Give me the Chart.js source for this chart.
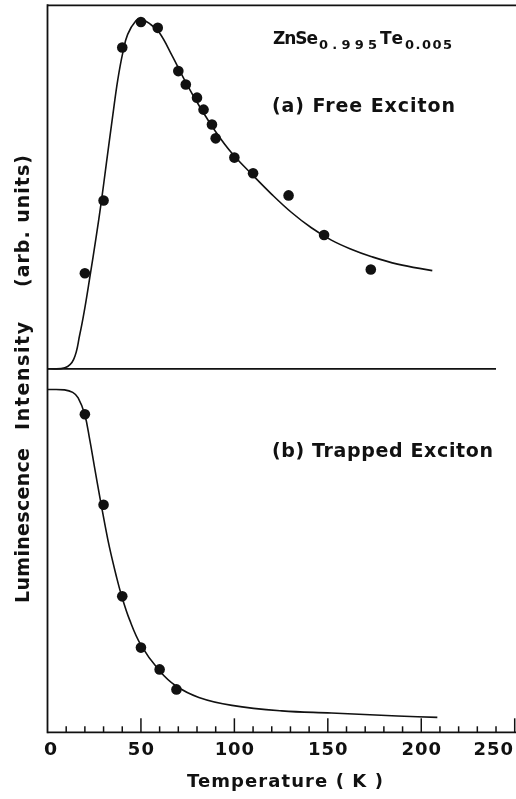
<!DOCTYPE html>
<html><head><meta charset="utf-8">
<script src="https://cdn.jsdelivr.net/npm/chart.js@4.4.0/dist/chart.umd.min.js"></script>
<style>
html,body{margin:0;padding:0;background:#fff;overflow:hidden;width:516px;height:799px}
#wrap{width:520px;height:799px}
</style></head>
<body><div id="wrap"><canvas id="c" width="520" height="799"></canvas></div>
<script>
// ---- data ----
const freeT = [20, 30, 40, 50, 59, 70, 74, 80, 83.5, 88, 90, 100, 110, 129, 148, 173];
const freeI = [26.3, 46.3, 88.4, 95.4, 93.8, 81.9, 78.2, 74.6, 71.3, 67.2, 63.4, 58.1, 53.8, 47.7, 36.8, 27.3];
const freeFitT = [0, 9.3, 14, 17.3, 19.9, 22.6, 26.1, 28.8, 31.5, 35.0, 37.6, 40.3, 42.9, 47.4, 50, 54.5, 59.8, 66.8, 74, 81, 89.9, 98.7, 109.4, 120, 130.6, 141.2, 151.9, 162.5, 173.1, 187.3, 205.9];
const freeFitI = [0, 0.3, 2.6, 9.5, 16.5, 25.0, 36.5, 46.0, 56.5, 70.0, 79.5, 87.0, 92.0, 95.8, 96.2, 95.0, 92.5, 86.0, 78.8, 72.5, 65.3, 59.3, 53.5, 48.0, 43.0, 38.8, 35.4, 32.9, 30.9, 28.8, 27.0];
const trapT = [20, 30, 40, 50, 60, 69];
const trapI = [87.5, 62.6, 37.4, 23.3, 17.3, 11.8];
const trapFitT = [0, 9.1, 13.5, 16.4, 19.9, 22.6, 25.2, 27.9, 30.6, 33.2, 36.8, 39.4, 43.9, 50, 59.8, 68.6, 81, 98.7, 125.3, 151.9, 169.6, 187.3, 208.6];
const trapFitI = [94.3, 94.2, 93.5, 92.0, 87.5, 80.5, 72.8, 65.0, 57.5, 50.8, 43.0, 38.0, 31.0, 24.0, 17.0, 12.8, 9.6, 7.4, 5.9, 5.3, 4.9, 4.5, 4.1];
const xMajorTicks = [0, 50, 100, 150, 200, 250];
const xTickLabels = ['0', '50', '100', '150', '200', '250'];
const xMinorTicks = [10, 20, 30, 40, 60, 70, 80, 90, 110, 120, 130, 140, 160, 170, 180, 190, 210, 220, 230, 240];
const xTitle = 'Temperature ( K )';
const yTitleParts = ['Luminescence', 'Intensity', '(arb. units)'];
const labelA = '(a) Free Exciton';
const labelB = '(b) Trapped Exciton';
const formulaParts = ['ZnSe', '0.995', 'Te', '0.005'];

const pts = (xs, ys) => xs.map((x, i) => ({x: x, y: ys[i]}));
const FONT = '"DejaVu Sans", "Liberation Sans", sans-serif';

function fitText(ctx, text, x, y, width, align) {
  ctx.save();
  ctx.textAlign = 'left';
  const hasLS = ('letterSpacing' in ctx);
  if (hasLS) ctx.letterSpacing = '0px';
  const w0 = ctx.measureText(text).width;
  let start;
  if (align === 'center') start = x - width / 2;
  else if (align === 'right') start = x - width;
  else start = x;
  if (hasLS && text.length > 1) {
    const ls = (width - w0) / (text.length - 1);
    ctx.letterSpacing = ls.toFixed(2) + 'px';
    ctx.fillText(text, start, y);
  } else {
    ctx.translate(start, y);
    ctx.scale(width / w0, 1);
    ctx.fillText(text, 0, 0);
  }
  ctx.restore();
}

const framePlugin = {
  id: 'frame',
  afterDatasetsDraw(chart) {
    const ctx = chart.ctx;
    const a = chart.chartArea;
    const xs = chart.scales.x;
    const yt = chart.scales.yTop;
    ctx.save();
    ctx.strokeStyle = '#111';
    ctx.fillStyle = '#111';
    ctx.lineWidth = 1.8;
    ctx.lineCap = 'butt';
    ctx.beginPath(); ctx.moveTo(a.left, a.top - 1); ctx.lineTo(a.left, a.bottom + 1); ctx.stroke();
    ctx.beginPath(); ctx.moveTo(a.left, a.top); ctx.lineTo(chart.width, a.top); ctx.stroke();
    const ym = yt.getPixelForValue(0);
    ctx.beginPath(); ctx.moveTo(a.left, ym); ctx.lineTo(xs.getPixelForValue(240), ym); ctx.stroke();
    ctx.beginPath(); ctx.moveTo(a.left, a.bottom); ctx.lineTo(chart.width, a.bottom); ctx.stroke();
    ctx.lineWidth = 1.5;
    xMinorTicks.forEach(v => {
      const px = xs.getPixelForValue(v);
      ctx.beginPath(); ctx.moveTo(px, a.bottom); ctx.lineTo(px, a.bottom - 6); ctx.stroke();
    });
    xMajorTicks.forEach(v => {
      if (v === 0) return;
      const px = xs.getPixelForValue(v);
      ctx.beginPath(); ctx.moveTo(px, a.bottom); ctx.lineTo(px, a.bottom - 14); ctx.stroke();
    });
    ctx.font = 'bold 18px ' + FONT;
    ctx.textBaseline = 'alphabetic';
    xMajorTicks.forEach((v, i) => {
      let px = xs.getPixelForValue(v) + (v === 0 ? 3 : 0);
      const t = xTickLabels[i];
      const w = ctx.measureText(t).width * 1.05;
      if (px + w / 2 > 513) px = 513 - w / 2;
      fitText(ctx, t, px, a.bottom + 23, w, 'center');
    });
    ctx.font = 'bold 18px ' + FONT;
    fitText(ctx, xTitle, 285, 787, 196, 'center');
    ctx.save();
    ctx.translate(29, 0);
    ctx.rotate(-Math.PI / 2);
    ctx.font = 'bold 19px ' + FONT;
    const yCenters = [525.5, 376, 221];
    const yWidths = [155, 108, 132];
    yTitleParts.forEach((t, i) => fitText(ctx, t, -yCenters[i], 0, yWidths[i], 'center'));
    ctx.restore();
    ctx.font = 'bold 19px ' + FONT;
    fitText(ctx, labelA, 272, 112, 183, 'left');
    fitText(ctx, labelB, 272, 457, 221, 'left');
    ctx.font = 'bold 17px ' + FONT;
    fitText(ctx, formulaParts[0], 273, 44, 45, 'left');
    fitText(ctx, formulaParts[2], 380, 44, 23, 'left');
    ctx.font = 'bold 13px ' + FONT;
    fitText(ctx, formulaParts[1], 319, 48.5, 58, 'left');
    fitText(ctx, formulaParts[3], 405, 48.5, 47, 'left');
    ctx.restore();
  }
};

new Chart(document.getElementById('c'), {
  type: 'scatter',
  data: {
    datasets: [
      {data: pts(freeFitT, freeFitI), yAxisID: 'yTop', showLine: true, borderColor: '#111', borderWidth: 1.6, pointRadius: 0, tension: 0.4, fill: false},
      {data: pts(freeT, freeI), yAxisID: 'yTop', showLine: false, pointRadius: 5.3, backgroundColor: '#111', borderWidth: 0},
      {data: pts(trapFitT, trapFitI), yAxisID: 'yBot', showLine: true, borderColor: '#111', borderWidth: 1.6, pointRadius: 0, tension: 0.4, fill: false},
      {data: pts(trapT, trapI), yAxisID: 'yBot', showLine: false, pointRadius: 5.3, backgroundColor: '#111', borderWidth: 0}
    ]
  },
  options: {
    responsive: false,
    animation: false,
    layout: {padding: {left: 47.5, right: 2, top: 3.3, bottom: 66.7}},
    plugins: {legend: {display: false}, tooltip: {enabled: false}},
    scales: {
      x: {type: 'linear', min: 0, max: 250, display: false},
      yTop: {type: 'linear', min: -100, max: 100, display: false},
      yBot: {type: 'linear', min: 0, max: 200, display: false}
    }
  },
  plugins: [framePlugin]
});
</script>
</body></html>
